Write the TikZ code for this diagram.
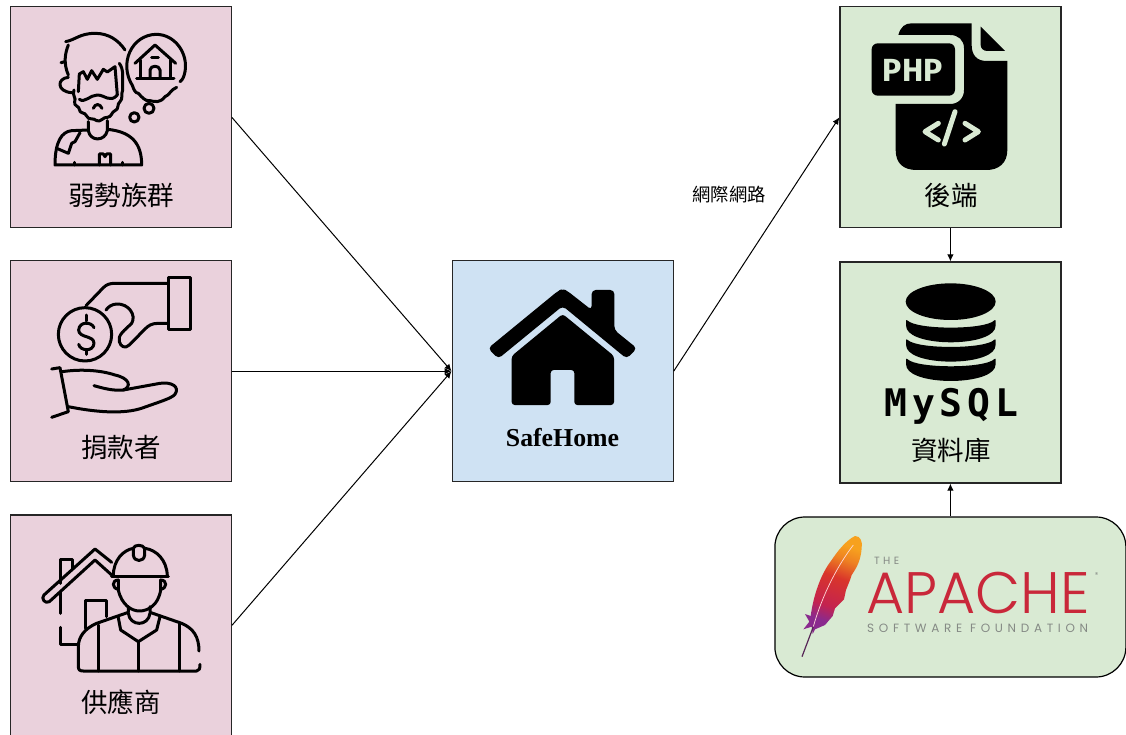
\documentclass[tikz,border=0pt]{standalone}
\usepackage{fontspec}
\usetikzlibrary{arrows.meta}
\newfontfamily\cjkfont{Noto Sans CJK TC}
\newfontfamily\serifbold{Liberation Serif}[BoldFont=* Bold]
\newfontfamily\dejamono{DejaVu Sans Mono}
\newfontfamily\firafont{Fira Sans}
\newfontfamily\popfont{Poppins}
\newfontfamily\poplight{Poppins Light}
\definecolor{pinkfill}{HTML}{EAD1DC}
\definecolor{bluefill}{HTML}{CFE2F3}
\definecolor{greenfill}{HTML}{D9EAD3}
\definecolor{apred}{HTML}{C9283A}
\definecolor{apgray}{HTML}{858A85}
\definecolor{fpurple}{HTML}{8A2A8E}
\definecolor{fcrimson}{HTML}{C4234F}
\definecolor{fred}{HTML}{D9352B}
\definecolor{forange}{HTML}{F7A11E}
\pgfdeclareverticalshading{feathershade}{100bp}{color(0bp)=(fpurple); color(29bp)=(fpurple); color(38bp)=(fcrimson); color(55bp)=(fred); color(66bp)=(forange!70!fred); color(74bp)=(forange); color(100bp)=(forange)}
\tikzset{
  card/.style={draw=black!85,line width=1.2pt,minimum width=221pt,minimum height=221pt,inner sep=0pt,fill=#1},
  flow/.style={draw=black,line width=1pt,-{Latex[length=7pt,width=6.5pt]}},
  icon/.style={draw=black,line width=3pt,line cap=round,line join=round},
  zoomed/.style={x=0.33333pt,y=-0.33333pt},
  cardlabel/.style={font=\cjkfont\fontsize{26.5}{30}\selectfont,inner sep=0pt,text=black},
}
\begin{document}
\begin{tikzpicture}[x=1pt,y=-1pt]
\useasboundingbox (0,0) rectangle (1126,735);
% cards
\node[card=pinkfill] (vuln) at (120.8,117.4) {};
\node[card=pinkfill] (donor) at (120.8,371.2) {};
\node[card=pinkfill] (supplier) at (120.8,625.4) {};
\node[card=bluefill] (home) at (562.6,371.2) {};
\node[card=greenfill] (backend) at (950.4,117.4) {};
\node[card=greenfill] (dbase) at (950.4,372.5) {};
\node[draw=black,line width=1.2pt,fill=greenfill,rounded corners=30pt,minimum width=351pt,minimum height=160pt,inner sep=0pt] (apache) at (950.4,597) {};
% connectors
\draw[flow] (vuln.east) -- (home.west);
\draw[flow] (donor.east) -- (home.west);
\draw[flow] (supplier.east) -- (home.west);
\draw[flow] (home.east) -- (backend.west);
\draw[flow] (backend.south) -- (dbase.north);
\draw[flow] (apache.north) -- (dbase.south);
\node[font=\cjkfont\fontsize{18.3}{20}\selectfont,inner sep=0pt] (netlabel) at (729,195) {網際網路};
% labels
\node[cardlabel] (l1) at (121,195) {弱勢族群};
\node[cardlabel] (l2) at (121,448) {捐款者};
\node[cardlabel] (l3) at (121,702) {供應商};
\node[font=\serifbold\bfseries\fontsize{25.8}{30}\selectfont,inner sep=0pt] (l4) at (562.5,438) {SafeHome};
\node[cardlabel] (l5) at (951,195) {後端};
\node[cardlabel] (l6) at (951,450) {資料庫};

% --- person with thought bubble
\begin{scope}[zoomed]
\draw[icon] (197,125) .. controls (225,120) and (240,100) .. (285,100) .. controls (325,100) and (355,120) .. (375,150);
\draw[icon] (205,135) .. controls (195,160) and (190,190) .. (205,225);
\draw[icon] (183,188) -- (195,185);
\draw[icon] (205,232) .. controls (170,235) and (170,275) .. (215,278);
\draw[icon] (235,275) -- (238,222) -- (250,215) -- (262,238) -- (275,212) -- (292,238) -- (310,208) -- (322,216) -- (345,200) -- (352,285);
\draw[icon] (238,298) .. controls (255,310) and (270,285) .. (292,285) .. controls (315,285) and (330,310) .. (352,285);
\draw[icon] (280,325) .. controls (285,310) and (300,310) .. (306,325);
\draw[icon] (222,270) .. controls (215,285) and (230,295) .. (224,305) .. controls (220,318) and (238,318) .. (238,328) .. controls (238,342) and (255,335) .. (260,348) .. controls (265,362) and (280,352) .. (290,362) .. controls (302,368) and (310,350) .. (322,352) .. controls (335,352) and (335,335) .. (345,332) .. controls (358,328) and (350,312) .. (360,305) .. controls (370,295) and (362,285) .. (368,270) -- (368,225) .. controls (368,210) and (365,200) .. (358,190);
\draw[icon] (265,365) -- (265,392) .. controls (270,425) and (315,425) .. (322,392) -- (322,362);
\draw[icon] (265,390) -- (215,392) .. controls (185,395) and (165,425) .. (165,495) -- (425,495) .. controls (425,430) and (395,395) .. (322,388);
\draw[icon] (240,398) -- (225,425) -- (215,430) -- (205,460) -- (170,445);
\draw[icon] (298,495) -- (298,462) -- (310,462) -- (315,470) -- (320,462) -- (332,462) -- (332,495);
\draw[icon] (222,487) -- (222,495) (368,487) -- (368,495);
\draw[icon] (398,258) .. controls (355,190) and (395,105) .. (468,103) .. controls (525,103) and (565,160) .. (555,215) .. controls (552,230) and (548,240) .. (540,245);
\draw[icon] (530,262) .. controls (510,270) and (510,285) .. (495,290) .. controls (480,310) and (465,305) .. (450,302) .. controls (435,305) and (425,290) .. (415,280) .. controls (405,280) and (400,265) .. (398,258);
\draw[icon] (447,325) circle[radius=15];
\draw[icon] (403,352) circle[radius=14];
\draw[icon] (405,190) -- (465,135) -- (527,190);
\draw[icon] (420,180) -- (420,235) -- (512,235) -- (512,180);
\draw[icon] (410,235) -- (522,235);
\draw[icon] (450,235) -- (450,210) .. controls (452,195) and (478,195) .. (480,210) -- (480,235);
\draw[icon] (455,172) -- (475,172);
\end{scope}

% --- hands and coin
\begin{scope}[zoomed,yshift=-255pt]
\draw[icon] (505,68) rectangle (570,222);
\draw[icon] (258,152) -- (310,98) .. controls (320,88) and (330,85) .. (345,85) -- (505,85);
\draw[icon] (505,205) -- (475,205) .. controls (455,205) and (445,212) .. (435,222) -- (388,270) .. controls (375,282) and (362,275) .. (358,260) .. controls (352,240) and (375,225) .. (395,205) .. controls (410,180) and (385,145) .. (350,147) .. controls (335,148) and (325,155) .. (318,165);
\draw[icon] (255,238) circle[radius=80];
\draw[icon] (282,218) .. controls (275,200) and (238,198) .. (236,225) .. controls (236,250) and (282,240) .. (282,265) .. controls (280,292) and (240,288) .. (236,268);
\draw[icon] (259,180) -- (259,198) (259,284) -- (259,298);
\draw[icon] (155,342) -- (180,338) -- (205,470) -- (155,487);
\draw[icon] (187,350) .. controls (240,342) and (300,345) .. (345,360) .. controls (390,370) and (395,395) .. (370,405) .. controls (340,408) and (310,400) .. (282,392);
\draw[icon] (370,405) -- (480,385) .. controls (515,380) and (540,395) .. (525,418) .. controls (515,430) and (480,440) .. (430,458) .. controls (370,480) and (280,470) .. (205,455);
\end{scope}

% --- builder and house
\begin{scope}[zoomed,yshift=-505pt]
\draw[icon] (335,172) -- (285,132) -- (132,270) .. controls (122,280) and (135,298) .. (148,290) -- (285,165) -- (335,210);
\draw[icon] (180,235) -- (180,162) -- (218,162) -- (218,192);
\draw[icon] (180,262) -- (180,325) (180,367) -- (180,418) -- (235,418);
\draw[icon] (255,370) -- (255,287) -- (320,287) -- (320,335);
\draw[icon] (340,212) .. controls (340,165) and (370,135) .. (400,130) (435,130) .. controls (470,135) and (500,165) .. (502,212);
\draw[icon] (400,150) -- (400,130) .. controls (402,118) and (430,118) .. (434,130) -- (434,150) .. controls (432,172) and (402,172) .. (400,150);
\draw[icon] (335,215) -- (505,215);
\draw[icon] (355,225) -- (355,255) .. controls (365,300) and (395,318) .. (418,318) .. controls (445,318) and (475,300) .. (482,255) -- (482,225);
\draw[icon] (355,225) .. controls (335,225) and (335,250) .. (355,253);
\draw[icon] (482,225) .. controls (502,225) and (502,250) .. (482,253);
\draw[icon] (385,305) -- (385,322) -- (290,355) .. controls (255,370) and (235,395) .. (235,425) -- (235,485) .. controls (235,495) and (240,498) .. (250,498) -- (590,498) .. controls (598,498) and (600,490) .. (600,478);
\draw[icon] (450,305) -- (450,322) -- (545,355) .. controls (580,370) and (597,395) .. (597,438);
\draw[icon] (385,325) .. controls (390,365) and (445,365) .. (450,325);
\draw[icon] (355,338) -- (362,375) -- (415,410) -- (470,375) -- (480,335);
\draw[icon] (415,410) -- (415,498);
\draw[icon] (295,360) -- (295,498) (538,352) -- (538,498);
\end{scope}

% --- SafeHome house
\begin{scope}[zoomed,xshift=430pt,yshift=-250pt]
\fill[rounded corners=4pt] (174,295) -- (385,122) -- (398,117) -- (411,122) -- (485,180) -- (485,120) -- (553,120) -- (553,240) -- (621,295) -- (590,326) -- (398,168) -- (205,326) -- cycle;
\fill[rounded corners=3pt] (245,318) -- (398,192) -- (552,318) -- (552,465) -- (433,465) -- (433,360) -- (362,360) -- (362,465) -- (245,465) -- cycle;
\end{scope}

% --- PHP file
\begin{scope}[zoomed,xshift=830pt,yshift=0pt]
\fill (205,105) .. controls (212,80) and (225,70) .. (245,70) -- (425,70) -- (425,135) .. controls (425,165) and (440,183) .. (470,183) -- (532,183) -- (532,450) .. controls (532,490) and (505,510) .. (470,510) -- (260,510) .. controls (220,510) and (197,490) .. (197,450) -- (197,312) -- (360,312) .. controls (385,312) and (402,295) .. (402,270) -- (402,145) .. controls (402,120) and (385,105) .. (360,105) -- cycle;
\fill (452,80) -- (525,153) -- (472,153) .. controls (460,153) and (452,145) .. (452,135) -- cycle;
\fill[rounded corners=6pt] (125,130) rectangle (375,287);
\node[font=\firafont\bfseries\fontsize{32}{36}\selectfont,text=greenfill,inner sep=0pt] (phptext) at (248,210) {PHP};
\draw[greenfill,line width=5pt,line cap=round,line join=round] (325,370) -- (285,395) -- (325,420);
\draw[greenfill,line width=5pt,line cap=round] (375,335) -- (343,432);
\draw[greenfill,line width=5pt,line cap=round,line join=round] (405,370) -- (445,395) -- (405,420);
\end{scope}

% --- database
\begin{scope}[zoomed,xshift=830pt,yshift=-250pt]
\fill (362,155) ellipse[x radius=135,y radius=55];
\foreach \dy in {0,58,116} {
  \fill[rounded corners=2pt] (228,207+\dy) .. controls (260,240+\dy) and (465,240+\dy) .. (497,207+\dy) -- (497,232+\dy) .. controls (470,290+\dy) and (255,290+\dy) .. (228,232+\dy) -- cycle;
}
\node[font=\dejamono\bfseries\fontsize{38}{40}\selectfont\addfontfeature{LetterSpace=13},inner sep=0pt,anchor=base] (mysqltext) at (364,500) {MySQL};
\end{scope}

% --- Apache logo
\begin{scope}[zoomed,xshift=770pt,yshift=-510pt]
\shade[shading=feathershade,shading angle=-20]
 (255,78) .. controls (272,78) and (278,95) .. (275,115) .. controls (272,150) and (262,170) .. (245,195) -- (240,210) -- (228,240) -- (222,268) -- (195,295) -- (188,318) -- (165,345) -- (135,358) -- (128,372) -- (125,350) -- (100,358) -- (118,335) -- (105,312) -- (122,318) .. controls (130,260) and (150,195) .. (185,150) .. controls (205,120) and (230,90) .. (255,78) -- cycle;
\draw[line width=0.7pt,color=pink!60!white] (250,105) .. controls (200,170) and (155,260) .. (130,350);
\draw[line width=1.2pt,color=black!45!violet!70!gray] (130,350) -- (96,440);
\node[font=\popfont\fontsize{10.5}{12}\selectfont\addfontfeature{LetterSpace=32},text=apgray,inner sep=0pt] (apthe) at (350,151) {THE};
\node[font=\poplight\fontsize{58.5}{60}\selectfont,text=apred,inner sep=0pt,text height=42pt,text depth=0pt,anchor=base] (apname) at (625,310) {APACHE};
\node[font=\popfont\fontsize{12}{14}\selectfont\addfontfeature{LetterSpace=39},text=apgray,inner sep=0pt,text height=9pt,text depth=0pt,anchor=base] (apsoft) at (623,366) {SOFTWARE FOUNDATION};
\node[font=\popfont\fontsize{7}{7}\selectfont,text=apgray,inner sep=0pt] (apreg) at (980,195) {®};
\end{scope}
\end{tikzpicture}
\end{document}
